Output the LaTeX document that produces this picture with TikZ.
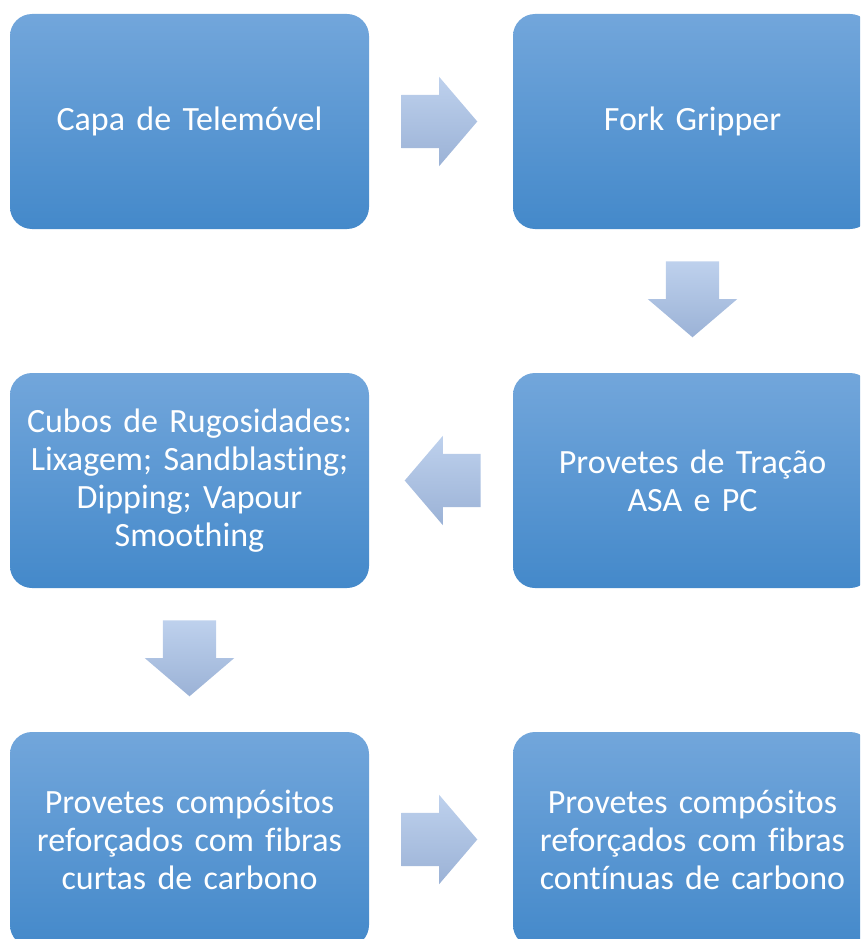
\documentclass[tikz,border=0pt]{standalone}
\usepackage{fontspec}
\setmainfont{Carlito}[Ligatures=NoCommon]
\usetikzlibrary{positioning, shapes.arrows, calc}

\definecolor{boxtop}{RGB}{114,166,219}
\definecolor{boxmid}{RGB}{85,155,221}
\definecolor{boxbot}{RGB}{68,137,202}
\definecolor{arrtop}{RGB}{190,209,237}
\definecolor{arrbot}{RGB}{155,178,214}

\begin{document}
\begin{tikzpicture}[x=1pt, y=1pt, node distance=359pt and 503pt, on grid,
  box/.style={rectangle, rounded corners=22pt, minimum width=359pt,
    minimum height=215pt, inner sep=5pt, text width=345pt, align=center,
    text=white, font=\fontsize{34}{38}\selectfont,
    top color=boxtop, middle color=boxmid, bottom color=boxbot, draw=none},
  flow/.style={single arrow, single arrow head extend=18pt,
    single arrow tip angle=99, minimum height=76pt, minimum width=89pt,
    inner xsep=0pt, inner ysep=26.5pt, anchor=tail,
    top color=arrtop, bottom color=arrbot, draw=none},
  flowdown/.style={flow, inner xsep=26.5pt, inner ysep=0pt,
    shape border rotate=270}]
  \useasboundingbox (0,0) rectangle (860,-939);
  \clip (0,0) rectangle (860,-939);
  % boxes
  \node[box] (capa) at (189.5,-121.5) {Capa de Telemóvel};
  \node[box] [right=of capa] (fork) {Fork Gripper};
  \node[box] [below=of fork] (tracao) {Provetes de Tração\\ASA e PC};
  \node[box] [below=of capa] (cubos) {Cubos de Rugosidades:\\Lixagem; Sandblasting;\\Dipping; Vapour\\Smoothing};
  \node[box] [below=of cubos] (curtas) {Provetes compósitos\\reforçados com fibras\\curtas de carbono};
  \node[box] [right=of curtas] (continuas) {Provetes compósitos\\reforçados com fibras\\contínuas de carbono};
  % arrows
  \node[flow] (a1) at ($(capa.east)!0.222!(fork.west)$) {};
  \node[flowdown] (a2) at ($(fork.south)!0.222!(tracao.north)$) {};
  \node[flow, shape border rotate=180] (a3) at ($(tracao.west)!0.222!(cubos.east)$) {};
  \node[flowdown] (a4) at ($(cubos.south)!0.222!(curtas.north)$) {};
  \node[flow] (a5) at ($(curtas.east)!0.222!(continuas.west)$) {};
\end{tikzpicture}
\end{document}
